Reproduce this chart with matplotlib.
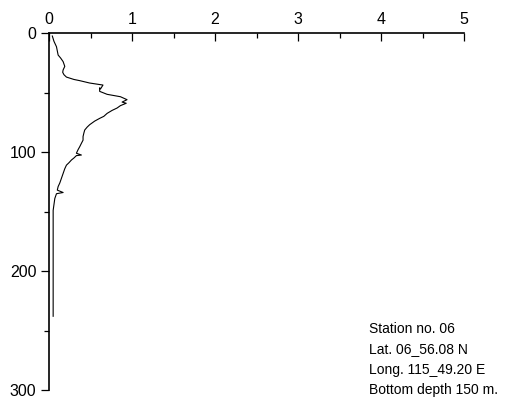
import matplotlib
matplotlib.use('Agg')
import matplotlib.pyplot as plt
from matplotlib.ticker import MultipleLocator

plt.rcParams['font.family'] = ['Liberation Sans', 'DejaVu Sans']

# profile: value vs depth (m)
value = [0.04, 0.06, 0.09, 0.10, 0.11, 0.14, 0.17, 0.18, 0.19, 0.17, 0.165,
         0.18, 0.21, 0.30, 0.37, 0.49, 0.65, 0.62, 0.61, 0.61, 0.70, 0.86,
         0.94, 0.88, 0.93, 0.86, 0.82, 0.76, 0.70, 0.66, 0.61, 0.55, 0.49,
         0.46, 0.43, 0.42, 0.41, 0.41, 0.39, 0.37, 0.35, 0.33, 0.39, 0.33,
         0.30, 0.27, 0.24, 0.21, 0.19, 0.17, 0.15, 0.13, 0.11, 0.10, 0.17,
         0.09, 0.07, 0.06, 0.05, 0.05, 0.05]
depth = [2.5, 7, 11.5, 15, 18.5, 21, 24, 26, 28, 31, 33,
         35, 37, 39, 40, 42, 43.7, 47, 46, 49, 51.5, 53.5,
         56, 58, 59, 61, 63, 65, 67.5, 70, 71.7, 74, 77,
         79, 81.5, 84, 87, 90, 92.7, 95.5, 98, 101, 102.5, 103,
         105, 106.7, 109, 111, 114, 118, 122, 126, 129, 132, 134,
         135, 139, 144, 149, 174, 238]

station_info = ['Station no. 06', 'Lat. 06_56.08 N',
                'Long. 115_49.20 E', 'Bottom depth 150 m.']

fig = plt.figure(figsize=(5.18, 4.08), dpi=100)
ax = fig.add_axes([0.0946, 0.044, 0.8015, 0.875])
ax.plot(value, depth, color='black', lw=0.8)

ax.set_xlim(0, 5)
ax.set_ylim(300, 0)
ax.xaxis.tick_top()
ax.xaxis.set_major_locator(MultipleLocator(1))
ax.xaxis.set_minor_locator(MultipleLocator(0.5))
ax.yaxis.set_major_locator(MultipleLocator(100))
ax.yaxis.set_minor_locator(MultipleLocator(50))
ax.tick_params(axis='x', which='both', direction='in', width=0.9, labelsize=11.5, pad=4)
ax.tick_params(axis='x', which='major', length=6)
ax.tick_params(axis='x', which='minor', length=3.5)
ax.tick_params(axis='y', which='both', direction='out', width=0.9, labelsize=11.5, pad=3)
ax.tick_params(axis='y', which='major', length=6)
ax.tick_params(axis='y', which='minor', length=3.5)

ax.spines['right'].set_visible(False)
ax.spines['bottom'].set_visible(False)
ax.spines['left'].set_linewidth(1.2)
ax.spines['top'].set_linewidth(1.2)

ax.text(0.77, 0.19, '\n'.join(station_info), transform=ax.transAxes,
        fontsize=10, va='top', ha='left', linespacing=1.56)

fig.savefig('out.png', dpi=100)
